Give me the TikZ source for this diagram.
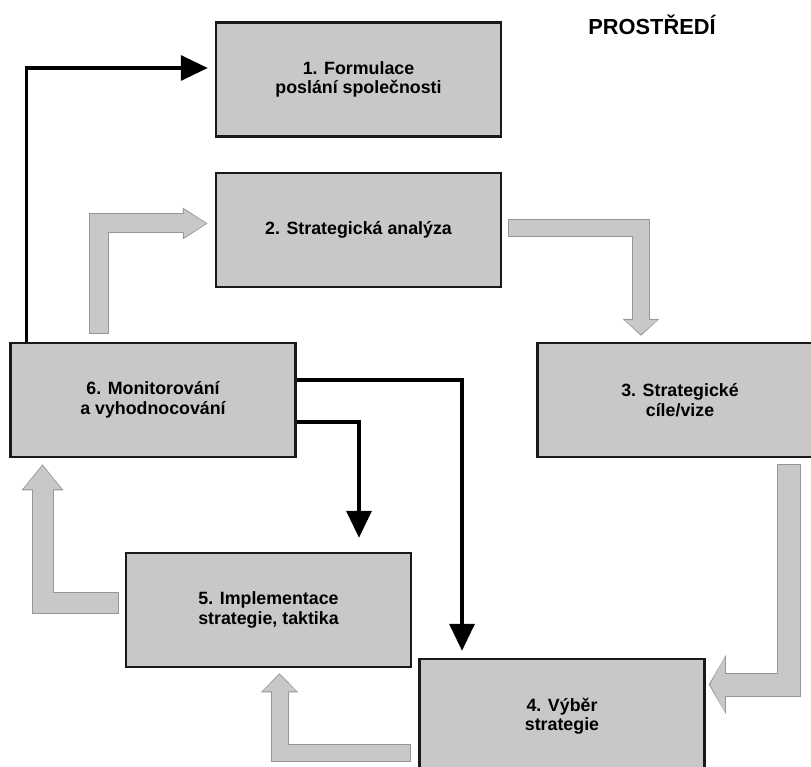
\documentclass[tikz,border=0pt]{standalone}
\usepackage{fontspec}
\setmainfont{Liberation Sans}
\usetikzlibrary{arrows.meta}
\definecolor{boxgray}{RGB}{200,200,200}
\definecolor{edgegray}{RGB}{150,150,150}

\tikzset{
  stage/.style={draw=black!90, line width=2.5pt, fill=boxgray, minimum width=285pt,
    minimum height=114pt, inner sep=0pt, align=center,
    font=\fontsize{17.8}{19.5}\selectfont\bfseries},
  flow/.style={line width=3.5pt, line join=miter, -{Triangle[length=27pt,width=25pt]}},
  bigflow/.style n args={3}{preaction={draw=edgegray, line width=#1, line join=miter,
      shorten <=0pt, shorten >=0pt, -{Triangle[length=#2,width=#3]}},
    draw=boxgray, line width=#1-2pt, line join=miter, shorten <=1pt, shorten >=1.4pt,
    -{Triangle[length=#2-2.4pt,width=#3-3.4pt]}}
}

\begin{document}
\begin{tikzpicture}[x=1pt,y=-1pt]
  \useasboundingbox (0,0) rectangle (811,767);

  \node[anchor=base] (env) at (652,35) {\fontsize{21.8}{24}\selectfont\bfseries PROSTŘEDÍ};

  \node[stage] (mission) at (358.5,79.5) {1. Formulace\\poslání společnosti};
  \node[stage] (analysis) at (358.5,230) {2. Strategická analýza};
  \node[stage] (goals) at (680,400) {3. Strategické\\cíle/vize};
  \node[stage] (choice) at (562,716) {4. Výběr\\strategie};
  \node[stage] (implement) at (268.5,610) {5. Implementace\\strategie, taktika};
  \node[stage] (monitor) at (153,400) {6. Monitorování\\a vyhodnocování};

  %% gray cycle
  \draw[bigflow={20pt}{25pt}{30pt}] ([xshift=-54pt,yshift=8pt]monitor.north) |- ([xshift=-7pt,yshift=6.5pt]analysis.west);
  \draw[bigflow={18pt}{17pt}{36pt}] ([xshift=6pt,yshift=2pt]analysis.east) -| ([xshift=-39pt,yshift=6pt]goals.north);
  \draw[bigflow={24pt}{17pt}{58pt}] ([xshift=109pt,yshift=-6pt]goals.south) |- ([xshift=3pt,yshift=31.5pt]choice.east);
  \draw[bigflow={18pt}{19pt}{36pt}] ([xshift=-7pt,yshift=-36.5pt]choice.west) -| ([xshift=11pt,yshift=-5pt]implement.south);
  \draw[bigflow={22pt}{26pt}{40pt}] ([xshift=-6pt,yshift=7pt]implement.west) -| ([xshift=-110.5pt,yshift=-6pt]monitor.south);

  %% feedback
  \draw[flow] ([xshift=17pt]monitor.north west) |- ([xshift=-7pt,yshift=11.5pt]mission.west);
  \draw[flow] ([yshift=20pt]monitor.east) -| ([xshift=-100pt,yshift=7pt]choice.north);
  \draw[flow] ([yshift=-22pt]monitor.east) -| ([xshift=90.5pt,yshift=14pt]implement.north);
\end{tikzpicture}
\end{document}
